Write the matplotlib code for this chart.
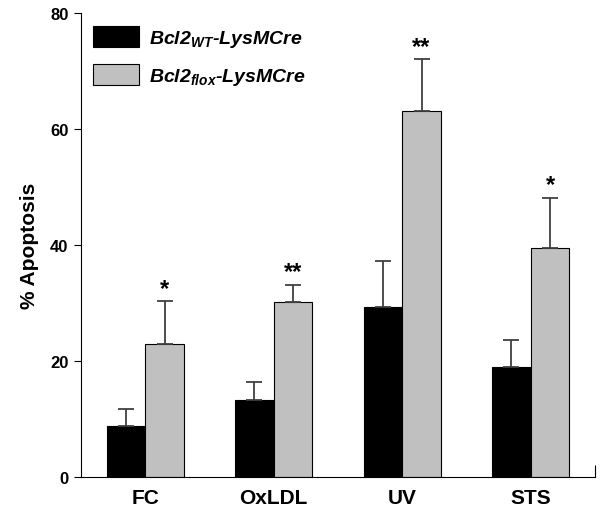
import matplotlib
matplotlib.use('Agg')
import matplotlib.pyplot as plt
import numpy as np

plt.rcParams['font.family'] = ['Liberation Sans', 'DejaVu Sans']
plt.rcParams['mathtext.fontset'] = 'custom'
plt.rcParams['mathtext.rm'] = 'Liberation Sans:bold:italic'
plt.rcParams['mathtext.it'] = 'Liberation Sans:bold:italic'
plt.rcParams['mathtext.bf'] = 'Liberation Sans:bold:italic'

# Data (% apoptosis, mean and upper error)
treatments = ['FC', 'OxLDL', 'UV', 'STS']
wt_mean = [8.8, 13.4, 29.3, 19.0]
wt_err = [3.0, 3.1, 8.0, 4.6]
flox_mean = [22.9, 30.3, 63.1, 39.6]
flox_err = [7.5, 2.9, 9.0, 8.6]
stars = ['*', '**', '**', '*']
labels = [r'Bcl2$_{WT}$-LysMCre', r'Bcl2$_{flox}$-LysMCre']

fig = plt.figure(figsize=(6.03, 5.10), dpi=100)
ax = fig.add_axes([0.1343, 0.0622, 0.8524, 0.9098])

x = np.arange(len(treatments))
w = 0.3
ekw = dict(ecolor='#404040', elinewidth=1.3, capsize=5.5, capthick=1.3)
ax.bar(x - w / 2, wt_mean, w, color='black', edgecolor='black', linewidth=0.8,
       yerr=[np.zeros(4), wt_err], error_kw=ekw, label=labels[0])
ax.bar(x + w / 2, flox_mean, w, color='#c0c0c0', edgecolor='black', linewidth=0.8,
       yerr=[np.zeros(4), flox_err], error_kw=ekw, label=labels[1])

for xi, m, e, s in zip(x, flox_mean, flox_err, stars):
    ax.annotate(s, (xi + w / 2, m + e), xytext=(0, 1), textcoords='offset points',
                ha='center', va='bottom', fontsize=17, fontweight='bold')

ax.set_xlim(-0.5, 3.5)
ax.set_ylim(0, 80)
ax.set_xticks(x)
ax.set_xticklabels(treatments, fontsize=15, fontweight='bold')
ax.set_yticks([0, 20, 40, 60, 80])
ax.set_yticklabels(['0', '20', '40', '60', '80'], fontsize=12, fontweight='bold')
ax.tick_params(axis='x', length=0, pad=8)
ax.tick_params(axis='y', length=5, width=0.8, pad=4)
ax.set_xticks([3.5], minor=True)
ax.tick_params(axis='x', which='minor', direction='in', length=9, width=0.8)
ax.set_ylabel('% Apoptosis', fontsize=15, fontweight='bold', labelpad=8)
for side in ['top', 'right']:
    ax.spines[side].set_visible(False)
for side in ['left', 'bottom']:
    ax.spines[side].set_linewidth(0.8)

ax.legend(loc='upper left', frameon=False, prop={'size': 14, 'weight': 'bold', 'style': 'italic'},
          handlelength=2.37, handleheight=1.3, handletextpad=0.5, labelspacing=0.75,
          borderaxespad=0, borderpad=0, bbox_to_anchor=(0.0233, 0.972))

fig.savefig('out.png', dpi=100)
